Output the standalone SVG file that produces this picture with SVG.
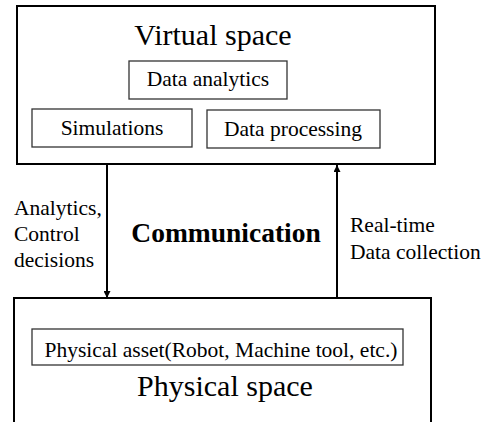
<svg xmlns="http://www.w3.org/2000/svg" width="484" height="422" viewBox="0 0 484 422">
<style>
.outer{fill:#fff;stroke:#000;stroke-width:2}
.inner{fill:#fff;stroke:#333;stroke-width:1.3}
.conn{stroke:#000;stroke-width:2;fill:none}
text{font-family:"Liberation Serif","Times New Roman",serif;fill:#000}
.t21{font-size:21.5px}
.t30{font-size:30px}
.bold{font-size:27.5px;font-weight:bold}
</style>
<defs>
<marker id="ah" viewBox="0 0 10 10" refX="10" refY="5" markerWidth="7" markerHeight="7" markerUnits="userSpaceOnUse" orient="auto"><path d="M0,0 L10,5 L0,10 z" fill="#000"/></marker>
</defs>
<rect width="484" height="422" fill="#fff"/>
<g id="virtual-space">
<rect class="outer" x="17" y="6" width="418" height="158"/>
<text class="t30" x="213" y="45" text-anchor="middle">Virtual space</text>
</g>
<g id="data-analytics">
<rect class="inner" x="129" y="61" width="158" height="38"/>
<text class="t21" x="208" y="86" text-anchor="middle">Data analytics</text>
</g>
<g id="simulations">
<rect class="inner" x="32" y="109" width="160" height="38"/>
<text class="t21" x="112" y="135" text-anchor="middle">Simulations</text>
</g>
<g id="data-processing">
<rect class="inner" x="207" y="110" width="173" height="38"/>
<text class="t21" x="293" y="136" text-anchor="middle">Data processing</text>
</g>
<g id="physical-space">
<rect class="outer" x="14" y="298" width="417" height="140"/>
<text class="t30" x="225" y="396" text-anchor="middle">Physical space</text>
</g>
<g id="physical-asset">
<rect class="inner" x="32" y="329" width="371" height="36"/>
<text class="t21" x="221" y="357" text-anchor="middle">Physical asset(Robot, Machine tool, etc.)</text>
</g>
<g id="connectors">
<line class="conn" x1="107" y1="165" x2="107" y2="298" marker-end="url(#ah)"/>
<line class="conn" x1="337" y1="297" x2="337" y2="165" marker-end="url(#ah)"/>
</g>
<g id="labels">
<text class="t21" x="14" y="215">Analytics,</text>
<text class="t21" x="14" y="241">Control</text>
<text class="t21" x="14" y="267">decisions</text>
<text class="bold" x="226" y="242" text-anchor="middle">Communication</text>
<text class="t21" x="350" y="232">Real-time</text>
<text class="t21" x="350" y="259">Data collection</text>
</g>
</svg>
